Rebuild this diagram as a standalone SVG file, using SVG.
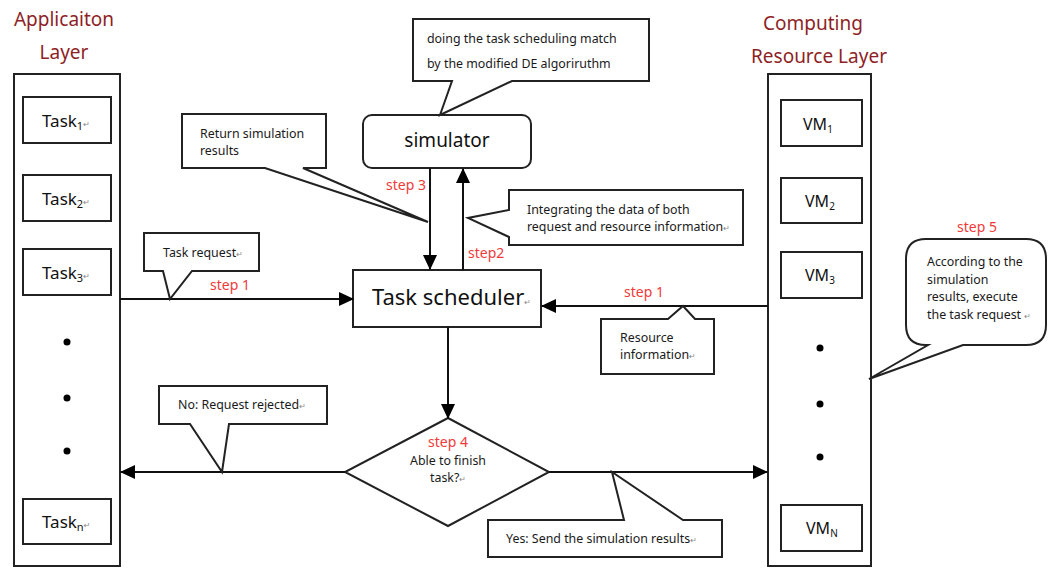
<svg xmlns="http://www.w3.org/2000/svg" width="1048" height="570" viewBox="0 0 1048 570">
  <style>
    .box { fill: #fff; stroke: #222; stroke-width: 2; }
    .frame { fill: none; stroke: #222; stroke-width: 2; }
    .call { fill: #fff; stroke: #222; stroke-width: 2; stroke-linejoin: miter; }
    .wire { fill: none; stroke: #111; stroke-width: 2; }
    .title { font-family: "Noto Sans", "Open Sans", sans-serif; font-size: 19px; fill: #8e1f26; }
    .lbl { font-family: "Noto Sans", "DejaVu Sans", sans-serif; font-size: 12.4px; fill: #1a1a1a; }
    .big { font-family: "Noto Sans", "DejaVu Sans", sans-serif; fill: #111; }
    .step { font-family: "Noto Sans", "DejaVu Sans", sans-serif; font-size: 14px; fill: #f23a3a; }
    .pm { font-size: 8px; fill: #888; }
    .dot { fill: #000; }
  </style>
  <defs>
    <marker id="arrow" markerUnits="userSpaceOnUse" markerWidth="16" markerHeight="14" refX="14" refY="7" orient="auto">
      <path d="M0,0 L15,7 L0,14 Z" fill="#000"/>
    </marker>
  </defs>

  <!-- layer titles -->
  <text class="title" x="64" y="26" text-anchor="middle">Applicaiton</text>
  <text class="title" x="64" y="59" text-anchor="middle">Layer</text>
  <text class="title" x="813" y="30" text-anchor="middle">Computing</text>
  <text class="title" x="819" y="63" text-anchor="middle">Resource Layer</text>

  <!-- application layer -->
  <g id="application-layer">
    <rect class="frame" x="14" y="74" width="106" height="492"/>
    <g id="task1">
      <rect class="box" x="23" y="97" width="88" height="46"/>
      <text class="big" font-size="17" x="42" y="127">Task<tspan font-size="11" dy="3">1</tspan><tspan class="pm" dy="-3">↵</tspan></text>
    </g>
    <g id="task2">
      <rect class="box" x="23" y="175" width="88" height="46"/>
      <text class="big" font-size="17" x="42" y="205">Task<tspan font-size="11" dy="3">2</tspan><tspan class="pm" dy="-3">↵</tspan></text>
    </g>
    <g id="task3">
      <rect class="box" x="23" y="249" width="88" height="46"/>
      <text class="big" font-size="17" x="42" y="279">Task<tspan font-size="11" dy="3">3</tspan><tspan class="pm" dy="-3">↵</tspan></text>
    </g>
    <circle class="dot" cx="67" cy="342" r="3.5"/>
    <circle class="dot" cx="67" cy="398" r="3.5"/>
    <circle class="dot" cx="67" cy="451" r="3.5"/>
    <g id="taskn">
      <rect class="box" x="23" y="499" width="88" height="45"/>
      <text class="big" font-size="17" x="42" y="528">Task<tspan font-size="11" dy="3">n</tspan><tspan class="pm" dy="-3">↵</tspan></text>
    </g>
  </g>

  <!-- computing resource layer -->
  <g id="resource-layer">
    <rect class="frame" x="768" y="74" width="103" height="492"/>
    <g id="vm1">
      <rect class="box" x="781" y="100" width="81" height="46"/>
      <text class="big" font-size="16" x="803" y="130">VM<tspan font-size="10" dy="3">1</tspan></text>
    </g>
    <g id="vm2">
      <rect class="box" x="781" y="178" width="81" height="45"/>
      <text class="big" font-size="16" x="805" y="207">VM<tspan font-size="10" dy="3">2</tspan></text>
    </g>
    <g id="vm3">
      <rect class="box" x="781" y="252" width="81" height="46"/>
      <text class="big" font-size="16" x="805" y="281">VM<tspan font-size="10" dy="3">3</tspan></text>
    </g>
    <circle class="dot" cx="820" cy="348" r="3.5"/>
    <circle class="dot" cx="820" cy="404" r="3.5"/>
    <circle class="dot" cx="820" cy="457" r="3.5"/>
    <g id="vmn">
      <rect class="box" x="781" y="505" width="81" height="46"/>
      <text class="big" font-size="16" x="806" y="534">VM<tspan font-size="10" dy="3">N</tspan></text>
    </g>
  </g>

  <!-- central nodes -->
  <g id="simulator">
    <rect class="box" x="363" y="115" width="168" height="53" rx="9"/>
    <text class="big" font-size="19" x="447" y="147" text-anchor="middle">simulator</text>
  </g>
  <g id="task-scheduler">
    <rect class="box" x="353" y="270" width="188" height="57"/>
    <text class="big" font-size="22" x="372" y="305">Task scheduler<tspan class="pm" dy="0">↵</tspan></text>
  </g>
  <g id="decision">
    <polygon class="box" points="448,418 549,472 448,526 345,472"/>
    <text class="step" x="448" y="447" text-anchor="middle">step 4</text>
    <text class="lbl" font-size="13" x="448" y="465" text-anchor="middle">Able to finish</text>
    <text class="lbl" font-size="13" x="448" y="482" text-anchor="middle">task?<tspan class="pm">↵</tspan></text>
  </g>

  <!-- connectors -->
  <g id="connectors">
    <line class="wire" x1="120" y1="299" x2="353" y2="299" marker-end="url(#arrow)"/>
    <line class="wire" x1="768" y1="306" x2="542" y2="306" marker-end="url(#arrow)"/>
    <line class="wire" x1="448" y1="327" x2="448" y2="418" marker-end="url(#arrow)"/>
    <line class="wire" x1="430" y1="168" x2="430" y2="269" marker-end="url(#arrow)"/>
    <line class="wire" x1="463" y1="270" x2="463" y2="169" marker-end="url(#arrow)"/>
    <line class="wire" x1="345" y1="472" x2="121" y2="472" marker-end="url(#arrow)"/>
    <line class="wire" x1="549" y1="472" x2="767" y2="472" marker-end="url(#arrow)"/>
  </g>

  <!-- step labels -->
  <text class="step" x="210" y="290">step 1</text>
  <text class="step" x="624" y="297">step 1</text>
  <text class="step" x="386" y="190">step 3</text>
  <text class="step" x="468" y="258">step2</text>
  <text class="step" x="957" y="232">step 5</text>

  <!-- callouts -->
  <g id="note-de">
    <path class="call" d="M413,19 H649 V81 H512 L440,115 L452,81 H413 Z"/>
    <text class="lbl" font-size="12.8" x="427" y="43">doing the task scheduling match</text>
    <text class="lbl" font-size="12.8" x="427" y="68">by the modified DE algoriruthm</text>
  </g>
  <g id="note-return">
    <path class="call" d="M182,114 H326 V168 H303 L428,222 L265,168 H182 Z"/>
    <text class="lbl" x="200" y="138">Return simulation</text>
    <text class="lbl" x="200" y="155">results</text>
  </g>
  <g id="note-integrate">
    <path class="call" d="M509,190 H743 V245 H509 V237 L468,218 L509,210 Z"/>
    <text class="lbl" x="527" y="214">Integrating the data of both</text>
    <text class="lbl" x="527" y="231">request and resource information<tspan class="pm">↵</tspan></text>
  </g>
  <g id="note-task-request">
    <path class="call" d="M144,233 H259 V271 H192 L170,299 L163,271 H144 Z"/>
    <text class="lbl" x="163" y="257">Task request<tspan class="pm">↵</tspan></text>
  </g>
  <g id="note-resource">
    <path class="call" d="M601,319 H668 L683,306 L695,319 H714 V374 H601 Z"/>
    <text class="lbl" x="620" y="342">Resource</text>
    <text class="lbl" x="620" y="359">information<tspan class="pm">↵</tspan></text>
  </g>
  <g id="note-execute">
    <path class="call" d="M926,239 H1026 Q1046,239 1046,259 V325 Q1046,345 1026,345 H963 L869,379 L928,345 H926 Q906,345 906,325 V259 Q906,239 926,239 Z"/>
    <text class="lbl" font-size="13" x="927" y="266">According to the</text>
    <text class="lbl" font-size="13" x="927" y="284">simulation</text>
    <text class="lbl" font-size="13" x="927" y="301">results, execute</text>
    <text class="lbl" font-size="13" x="927" y="319">the task request <tspan class="pm">↵</tspan></text>
  </g>
  <g id="note-rejected">
    <path class="call" d="M159,386 H327 V424 H229 L222,472 L190,424 H159 Z"/>
    <text class="lbl" x="178" y="409">No: Request rejected<tspan class="pm">↵</tspan></text>
  </g>
  <g id="note-yes">
    <path class="call" d="M488,520 H624 L612,472 L683,520 H722 V557 H488 Z"/>
    <text class="lbl" x="506" y="543">Yes: Send the simulation results<tspan class="pm">↵</tspan></text>
  </g>
</svg>
